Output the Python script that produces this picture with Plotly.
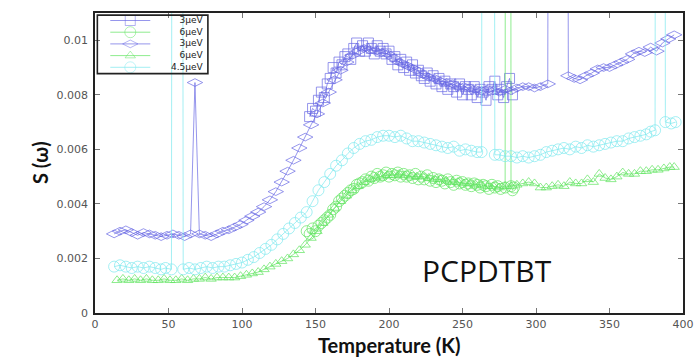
import plotly.graph_objects as go

# ---------------- data (S values in units of 1e-3) ----------------
HI = 200.0  # off-scale glitch points (drawn as vertical spikes)

T_sq = [146,148,150,152,154,156,158,160,162,164,166,168,170,172,174,176,178,180,182,184,
        186,188,190,192,194,196,198,200,202,204,206,208,210,212,214,216,218,220,222,224,
        226,228,230,232,234,236,238,240,242,244,246,248,250,252,254,256,258,260,262,264,
        266,268,270,272,274,276,278,280,282,284]
S_sq = [7.2,7.5,7.4,7.8,8.1,7.9,8.4,8.6,9.0,8.8,9.2,9.1,9.4,9.5,9.3,9.7,9.9,9.6,9.8,9.6,
        9.9,9.7,9.5,9.8,9.6,9.7,9.5,9.6,9.3,9.4,9.1,9.3,9.0,9.2,8.9,9.1,8.8,8.9,8.7,8.6,
        8.8,8.5,8.7,8.4,8.6,8.3,8.5,8.2,8.4,8.3,8.1,8.4,8.0,8.3,8.2,8.0,8.3,7.9,8.2,8.1,
        7.8,8.3,8.2,8.5,8.0,8.2,7.9,8.3,8.6,8.0]

T_gc = [144,146,148,150,152,154,156,158,160,162,164,166,168,170,172,174,176,178,180,182,
        184,186,188,190,192,194,196,198,200,202,204,206,208,210,212,214,216,218,220,222,
        224,226,228,230,232,234,236,238,240,242,244,246,248,250,252,254,256,258,260,262,
        264,266,268,270,272,274,276,279,281,283,284,285]
S_gc = [3.0,2.9,3.1,3.0,3.2,3.3,3.4,3.5,3.6,3.8,3.9,4.1,4.2,4.3,4.4,4.5,4.55,4.7,4.75,4.8,
        4.9,4.85,5.0,4.95,5.1,5.0,5.05,5.15,5.0,5.1,5.05,5.15,5.0,5.1,5.0,5.05,4.95,5.1,4.9,5.0,
        4.9,5.05,4.85,4.95,4.8,4.9,4.85,4.75,4.9,4.8,4.7,4.85,4.75,4.8,4.7,4.75,4.65,4.75,4.7,4.6,
        4.7,4.65,4.55,4.7,4.6,4.65,4.55,4.6,HI,4.65,4.5,4.6]

T_di = [13,17,21,25,29,33,37,41,45,49,53,57,61,65,68,71,75,79,83,87,
        91,95,99,103,107,111,115,119,123,127,131,135,139,143,147,151,155,159,163,167,
        171,175,179,183,187,191,195,199,203,207,211,215,219,223,227,231,235,239,243,247,
        251,255,259,263,267,271,275,279,283,287,291,295,299,303,308,315,322,326,330,334,
        338,342,346,350,354,358,362,366,370,374,378,382,386,390,394]
S_di = [2.9,3.0,3.05,2.95,2.85,2.95,2.9,2.85,2.8,2.85,2.9,2.85,2.8,2.9,8.45,2.9,2.85,2.8,2.9,3.0,
        3.05,3.15,3.25,3.4,3.55,3.7,3.9,4.15,4.45,4.8,5.2,5.6,6.05,6.45,6.9,7.3,7.7,8.1,8.55,8.9,
        9.2,9.45,9.6,9.7,9.65,9.6,9.55,9.5,9.35,9.2,9.1,9.0,8.9,8.75,8.65,8.6,8.5,8.45,8.4,8.3,
        8.3,8.25,8.2,8.15,8.2,8.15,8.1,8.2,8.15,8.25,8.3,8.3,8.25,8.3,8.4,HI,8.7,8.6,8.55,8.7,
        8.8,8.95,9.0,9.0,9.1,9.2,9.3,9.5,9.6,9.55,9.75,9.6,9.9,10.05,10.2]

T_tr = [15,19,23,27,31,35,39,43,47,51,55,59,63,67,71,75,79,83,87,91,
        95,99,103,107,111,115,119,123,127,131,135,139,143,147,151,155,159,163,167,171,
        175,179,183,187,191,195,199,203,207,211,215,219,223,227,231,235,239,243,247,251,
        255,259,263,267,271,275,279,283,287,291,295,299,303,307,311,315,319,323,327,331,
        335,339,343,347,351,355,359,363,367,371,375,379,383,387,391,394]
S_tr = [1.2,1.25,1.2,1.25,1.2,1.25,1.2,1.2,1.25,1.2,1.2,1.25,1.2,1.25,1.25,1.3,1.25,1.3,1.3,1.3,
        1.3,1.35,1.4,1.45,1.5,1.6,1.7,1.8,1.9,2.0,2.15,2.3,2.5,2.75,3.0,3.3,3.6,3.85,4.1,4.3,
        4.5,4.65,4.8,4.9,4.95,5.0,5.05,5.05,5.1,5.05,5.0,5.0,5.0,4.95,4.9,4.9,4.85,4.8,4.8,4.75,
        4.75,4.7,4.7,4.65,4.65,4.6,4.65,4.65,4.7,4.75,4.8,4.75,4.6,4.6,4.65,4.7,4.65,4.8,4.75,4.75,
        4.9,4.8,5.1,4.95,4.9,5.0,5.15,5.1,5.1,5.2,5.2,5.25,5.25,5.3,5.35,5.35]

T_cy = [13,17,21,25,29,33,37,41,45,48,52,56,60,64,68,72,76,80,84,88,
        92,96,100,104,108,112,116,120,124,128,132,136,140,144,148,152,156,160,164,168,
        172,176,180,184,188,192,196,200,204,208,212,216,220,224,228,232,236,240,244,248,
        252,256,260,263,267,272,275,279,283,287,291,295,299,303,307,311,315,319,323,327,
        331,335,339,343,347,351,355,359,363,367,371,375,378,381,385,388,392,395]
S_cy = [1.7,1.75,1.7,1.65,1.7,1.65,1.7,1.65,1.6,1.65,1.6,HI,1.6,1.65,1.6,1.65,1.7,1.65,1.7,1.7,
        1.75,1.8,1.85,1.95,2.05,2.2,2.35,2.5,2.7,2.9,3.1,3.3,3.5,3.7,4.1,4.5,4.8,5.1,5.4,5.6,
        5.85,6.05,6.2,6.3,6.35,6.45,6.5,6.5,6.45,6.5,6.4,6.3,6.3,6.25,6.2,6.15,6.1,6.05,6.1,5.95,
        6.0,5.95,5.9,5.9,HI,5.8,5.8,5.75,5.75,5.7,5.75,5.7,5.75,5.8,5.9,5.95,6.0,6.05,6.0,6.1,
        6.05,6.15,6.1,6.15,6.2,6.25,6.3,6.3,6.4,6.45,6.5,6.55,6.65,6.7,HI,7.0,6.95,7.0]

series_names = ["3\u03bceV", "6\u03bceV", "3\u03bceV", "6\u03bceV", "4.5\u03bceV"]
x_ticks = [0, 50, 100, 150, 200, 250, 300, 350, 400]
y_ticks = [0, 0.002, 0.004, 0.006, 0.008, 0.01]
y_ticktext = ["0", "0.002", "0.004", "0.006", "0.008", "0.01"]

BLUE = "rgb(105,105,228)"
GREEN = "rgb(95,228,95)"
CYAN = "rgb(125,232,238)"

series = [
    (T_sq, S_sq, "square-open", BLUE, 10),
    (T_gc, S_gc, "circle-open", GREEN, 11),
    (T_di, S_di, "diamond-wide-open", BLUE, 11),
    (T_tr, S_tr, "triangle-up-open", GREEN, 9),
    (T_cy, S_cy, "circle-open", CYAN, 11),
]

fig = go.Figure()
for (tx, sy, sym, col, ms), name in zip(series, series_names):
    fig.add_trace(go.Scatter(
        x=tx, y=[v * 1e-3 for v in sy], name=name, mode="lines+markers",
        line=dict(color=col, width=0.7),
        marker=dict(symbol=sym, size=ms, color=col, line=dict(color=col, width=0.7)),
        showlegend=False, cliponaxis=True,
    ))

# ---------------- custom compact legend (paper space via overlay axes) ----------------
leg_y = [0.975, 0.936, 0.897, 0.858, 0.819]
for (tx, sy, sym, col, ms), ly in zip(series, leg_y):
    fig.add_trace(go.Scatter(
        x=[0.026, 0.06, 0.094], y=[ly, ly, ly], xaxis="x2", yaxis="y2",
        mode="lines+markers", showlegend=False, hoverinfo="skip",
        line=dict(color=col, width=0.7),
        marker=dict(symbol=sym, size=[0, ms, 0], color=col, line=dict(color=col, width=0.7)),
    ))
fig.add_annotation(x=0.188, y=0.897, xref="paper", yref="paper",
                   text="<br>".join(series_names), align="right",
                   showarrow=False, xanchor="right", yanchor="middle",
                   font=dict(family="DejaVu Sans", size=9, color="#222"))
fig.add_shape(type="rect", xref="paper", yref="paper", x0=0.004, x1=0.192,
              y0=0.798, y1=0.993, line=dict(color="#222", width=1.6),
              fillcolor="rgba(0,0,0,0)")

fig.add_annotation(x=267, y=0.00155, xref="x", yref="y", text="PCPDTBT",
                   showarrow=False, font=dict(family="Open Sans", size=30, color="#111"))

# axis titles
fig.add_annotation(x=0.5, y=0, xref="paper", yref="paper", yshift=-32,
                   text="<b>Temperature (K)</b>", showarrow=False,
                   xanchor="center", yanchor="middle",
                   font=dict(family="Lato", size=20, color="#111"))
fig.add_annotation(x=0, y=0.5, xref="paper", yref="paper", xshift=-55,
                   text="<b>S (\u03c9)</b>", showarrow=False, textangle=-90,
                   xanchor="center", yanchor="middle",
                   font=dict(family="Lato", size=20, color="#111"))

axis_common = dict(
    showline=True, linecolor="#222", linewidth=1.6, mirror="ticks",
    ticks="inside", ticklen=5, tickcolor="#777", tickwidth=1,
    showgrid=False, zeroline=False, automargin=False,
    tickfont=dict(family="DejaVu Sans", size=11, color="#555"),
)

fig.update_layout(
    width=694, height=358,
    margin=dict(l=95, r=11, t=13, b=45, autoexpand=False),
    paper_bgcolor="white", plot_bgcolor="white",
    xaxis=dict(range=[0, 400], tickvals=x_ticks, **axis_common),
    yaxis=dict(range=[0, 0.011], tickvals=y_ticks, ticktext=y_ticktext,
               ticklabelstandoff=3, **axis_common),
    xaxis2=dict(range=[0, 1], overlaying="x", visible=False, fixedrange=True),
    yaxis2=dict(range=[0, 1], overlaying="y", visible=False, fixedrange=True),
    showlegend=False,
)

fig.write_html("out.html", config={"displayModeBar": False},
               post_script="document.body.style.margin='0';")
